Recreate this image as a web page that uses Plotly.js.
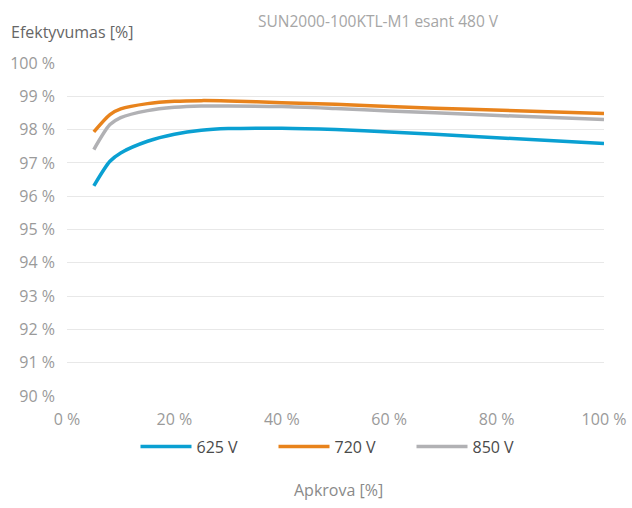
<!DOCTYPE html>
<html>
<head>
<meta charset="utf-8">
<script src="https://cdn.plot.ly/plotly-3.0.1.min.js"></script>
<style>html,body{margin:0;padding:0;background:#fff;}#chart{width:632px;height:508px;}</style>
</head>
<body>
<div id="chart"></div>
<script>
const load = [5, 8, 10, 15, 20, 25, 30, 40, 50, 60, 75, 100];
const eff625 = [96.31, 97.05, 97.3, 97.65, 97.86, 97.98, 98.03, 98.04, 98.00, 97.93, 97.80, 97.58];
const eff720 = [97.93, 98.45, 98.62, 98.78, 98.85, 98.87, 98.86, 98.81, 98.76, 98.69, 98.61, 98.48];
const eff850 = [97.40, 98.15, 98.36, 98.57, 98.67, 98.71, 98.71, 98.69, 98.63, 98.56, 98.46, 98.30];
const seriesNames = ['625 V', '720 V', '850 V'];
const seriesColors = ['#0aa0d2', '#e8831c', '#b1b1b4'];
const yTicks = [90, 91, 92, 93, 94, 95, 96, 97, 98, 99, 100];
const xTicks = [0, 20, 40, 60, 80, 100];

const font = 'Open Sans, Noto Sans, sans-serif';
const ys = [eff625, eff720, eff850];
const traces = ys.map((y, i) => ({
  x: load, y: y, name: seriesNames[i], type: 'scatter', mode: 'lines',
  line: {color: seriesColors[i], width: 3.5, shape: 'spline', smoothing: 0.8}
}));

const layout = {
  width: 632, height: 508,
  margin: {l: 67, r: 28, t: 63, b: 112},
  paper_bgcolor: '#fff', plot_bgcolor: '#fff',
  font: {family: font, color: '#9a9a9a', size: 16},
  showlegend: true,
  legend: {orientation: 'h', x: 0.5 + 7/537, xanchor: 'center', y: -0.152, yanchor: 'middle',
    bgcolor: 'rgba(0,0,0,0)',
    font: {family: font, size: 16, color: '#4a4a4a'}, entrywidth: 72, itemwidth: 51},
  title: {text: 'SUN2000-100KTL-M1 esant 480 V', x: 378/632, xref: 'container', xanchor: 'center',
    y: 1 - 22/508, yref: 'container', yanchor: 'middle',
    font: {family: font, size: 15.5, color: '#a6a6a6'}},
  xaxis: {range: [0, 100], tickvals: xTicks, ticktext: xTicks.map(v => v + ' %'),
    showgrid: false, zeroline: false, showline: false, ticks: '', ticklabelstandoff: 12,
    tickfont: {family: font, size: 16, color: '#9a9a9a'}, fixedrange: true},
  yaxis: {range: [90, 100], tickvals: yTicks, ticktext: yTicks.map(v => v + ' %'),
    showgrid: true, gridcolor: '#e8e8e8', gridwidth: 1, zeroline: false, showline: false, ticks: '',
    ticklabelstandoff: 11, tickfont: {family: font, size: 16, color: '#9a9a9a'}, fixedrange: true},
  annotations: [
    {text: 'Efektyvumas [%]', xref: 'paper', yref: 'paper', x: -58/537, y: 1 + 31/333,
      xanchor: 'left', yanchor: 'middle', showarrow: false, font: {family: font, size: 16, color: '#666'}},
    {text: 'Apkrova [%]', xref: 'paper', yref: 'paper', x: (338-67)/537, y: -(490-396)/333,
      xanchor: 'center', yanchor: 'middle', showarrow: false, font: {family: font, size: 16, color: '#8a8a8a'}}
  ]
};
Plotly.newPlot('chart', traces, layout, {displayModeBar: false, staticPlot: true});
</script>
</body>
</html>
